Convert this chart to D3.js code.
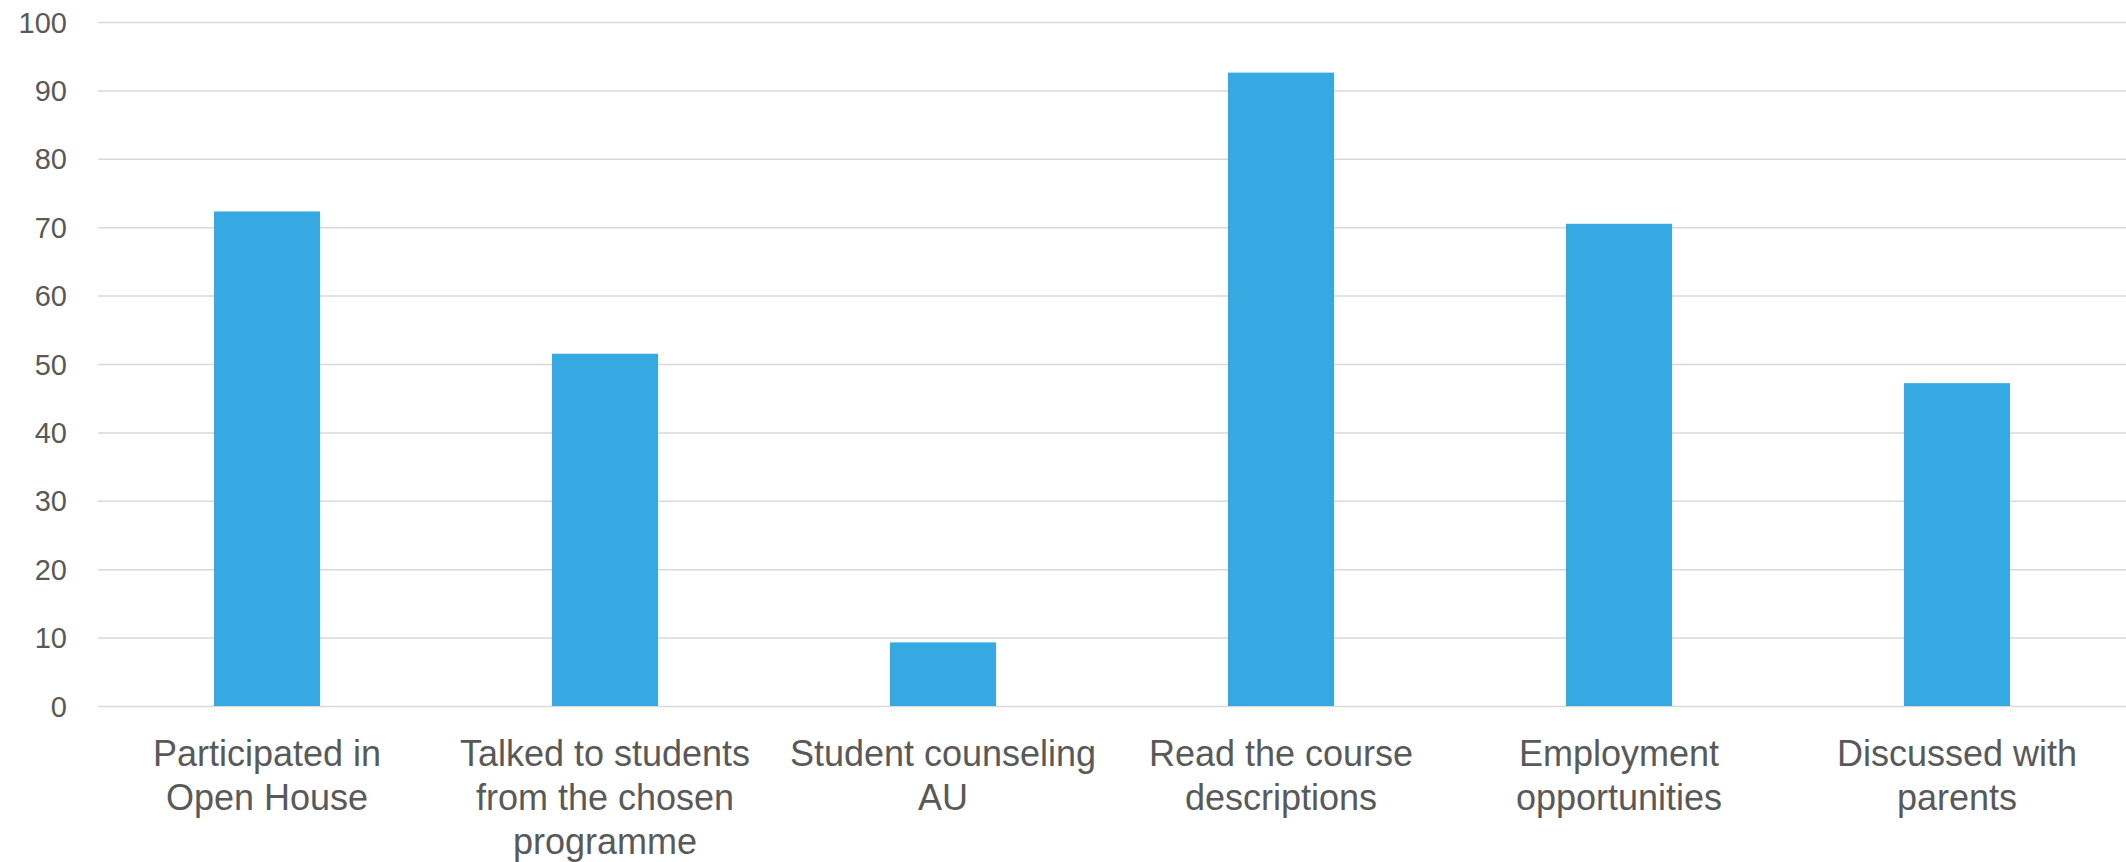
<!DOCTYPE html>
<html>
<head>
<meta charset="utf-8">
<script src="https://cdn.jsdelivr.net/npm/d3@7"></script>
<style>
  html, body { margin: 0; padding: 0; background: #ffffff; }
  svg { display: block; }
  text { font-family: "Liberation Sans", Arial, Helvetica, sans-serif; fill: #595959; }
</style>
</head>
<body>
<svg id="chart" width="2126" height="862"></svg>
<script>
// Categories (line breaks mark where each axis label wraps)
const categories = [
  "Participated in\nOpen House",
  "Talked to students\nfrom the chosen\nprogramme",
  "Student counseling\nAU",
  "Read the course\ndescriptions",
  "Employment\nopportunities",
  "Discussed with\nparents"
];
// Share of respondents (%)
const values = [72.3, 51.5, 9.3, 92.6, 70.5, 47.2];
const yTicks = [0, 10, 20, 30, 40, 50, 60, 70, 80, 90, 100];

const W = 2126, H = 862;
const plot = { left: 98, right: 2126, top: 22, bottom: 706 };

const svg = d3.select("#chart");

const x = d3.scaleBand()
  .domain(categories)
  .range([plot.left, plot.right])
  .paddingInner(0.686)
  .paddingOuter(0.343);

const y = d3.scaleLinear()
  .domain([0, 100])
  .range([plot.bottom, plot.top]);

// Horizontal gridlines with value labels on the left
const yAxis = d3.axisLeft(y)
  .tickValues(yTicks)
  .tickSize(-(plot.right - plot.left))
  .tickPadding(31)
  .tickFormat(d3.format("d"));

const gy = svg.append("g")
  .attr("transform", `translate(${plot.left},0)`)
  .call(yAxis);
gy.select(".domain").remove();
gy.selectAll(".tick line")
  .attr("stroke", "#d9d9d9")
  .attr("stroke-width", 1.5);
gy.selectAll(".tick text")
  .attr("font-size", 29)
  .attr("fill", "#595959")
  .attr("dy", "0.35em");

// Bars
svg.append("g")
  .selectAll("rect")
  .data(values)
  .join("rect")
  .attr("x", (d, i) => x(categories[i]))
  .attr("width", x.bandwidth())
  .attr("y", d => y(d))
  .attr("height", d => y(0) - y(d))
  .attr("fill", "#37a9e2");

// Category labels under the bars
const xAxis = d3.axisBottom(x).tickSize(0).tickFormat("");
const gx = svg.append("g")
  .attr("transform", `translate(0,${plot.bottom})`)
  .call(xAxis);
gx.select(".domain").remove();

gx.selectAll(".tick").each(function(d) {
  const t = d3.select(this).append("text")
    .attr("text-anchor", "middle")
    .attr("font-size", 36)
    .attr("fill", "#595959");
  d.split("\n").forEach((line, i) => {
    t.append("tspan")
      .attr("x", 0)
      .attr("y", 60 + i * 44)
      .text(line);
  });
});
</script>
</body>
</html>
